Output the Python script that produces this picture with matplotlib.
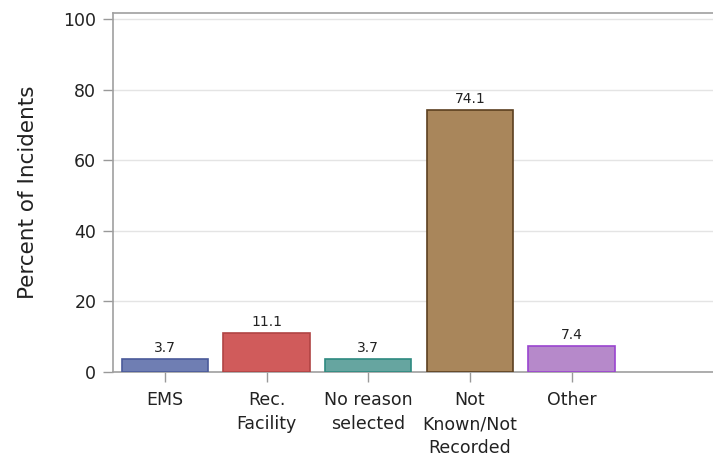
import matplotlib.pyplot as plt
import numpy as np

# Chart data
categories = ["EMS", "Rec.\nFacility", "No reason\nselected", "Not\nKnown/Not\nRecorded", "Other"]
percents = [3.7, 11.1, 3.7, 74.1, 7.4]
fill_colors = ["#6F7EB3", "#D05B5B", "#66A5A0", "#A9865B", "#B689CA"]
edge_colors = ["#4A5A9A", "#B04444", "#2E8A80", "#5C4020", "#9A44D0"]
yticks = [0, 20, 40, 60, 80, 100]

plt.rcParams['font.family'] = ['DejaVu Sans']

fig = plt.figure(figsize=(7.13, 4.58), dpi=100)
ax = fig.add_axes([113 / 713, 1 - 372 / 458, 1 - 113 / 713, (372 - 13) / 458])

x = np.arange(len(categories))
bars = ax.bar(x, percents, width=0.85, color=fill_colors, edgecolor=edge_colors, linewidth=1.2, zorder=3)

for xi, v in zip(x, percents):
    ax.text(xi, v + 1.2, f"{v:.1f}", ha="center", va="bottom", fontsize=10, color="#222222", zorder=4)

ax.set_xlim(-0.51, 5.39)
ax.set_ylim(0, 101.7)
ax.set_yticks(yticks)
ax.set_xticks(x)
ax.set_xticklabels(categories, fontsize=12.5, linespacing=1.45)
ax.tick_params(axis="y", labelsize=12.5, colors="#999999", labelcolor="#222222", length=7, width=1, pad=5)
ax.tick_params(axis="x", colors="#999999", labelcolor="#222222", length=7, width=1, pad=6.5)
ax.yaxis.grid(True, color="#E4E4E4", linewidth=1, zorder=0)
ax.set_axisbelow(True)

for side in ["left", "top", "bottom"]:
    ax.spines[side].set_color("#A0A0A0")
    ax.spines[side].set_linewidth(1.2)
ax.spines["right"].set_visible(False)

ax.set_ylabel("Percent of Incidents", fontsize=15.5, color="#222222", labelpad=18)

fig.savefig("out.png", dpi=100)
